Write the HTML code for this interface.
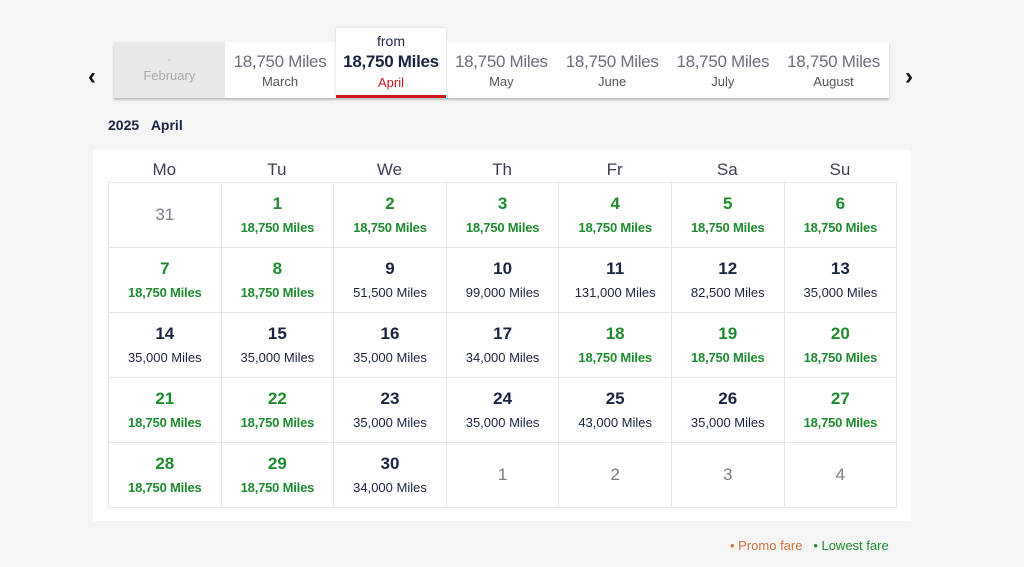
<!DOCTYPE html>
<html><head><meta charset="utf-8"><style>
body{margin:0;width:1024px;height:567px;background:#f5f5f5;font-family:"Liberation Sans",sans-serif;position:relative;overflow:hidden;color:#1b2340}
.arrow{position:absolute;top:63px;font-size:24px;font-weight:bold;color:#111}
.strip{position:absolute;left:114px;top:42px;width:775px;height:56px;background:#fff;box-shadow:0 2px 2px #bbb}
.tab{position:absolute;top:0;width:110.7px;height:56px;text-align:center}
.tab .m{font-size:17px;color:#6b6e7c;margin-top:10px;letter-spacing:-0.3px}
.tab .n{font-size:13px;color:#555;margin-top:2px}
.act{position:absolute;left:336px;top:28px;width:110px;height:70px;background:#fff;text-align:center;border-bottom:3px solid #c8191a;box-sizing:border-box;box-shadow:0 0 2px #ccc}
.panel{position:absolute;left:93px;top:150px;width:818px;height:371px;background:#fff}
table{position:absolute;left:15px;top:32px;border-collapse:collapse}
td{width:111.6px;height:64px;border:1px solid #e6e6e6;text-align:center;padding:0;vertical-align:middle}
.d{font-size:17px;font-weight:bold;line-height:20px}
.p{font-size:13px;line-height:16px;margin-top:6px}
.g{color:#1e8b30}
.p.g{font-weight:bold;letter-spacing:-0.2px}
.o{color:#7a7d88;font-weight:normal}
.hd{position:absolute;top:160px;width:112.6px;text-align:center;font-size:17px;color:#3a3f55}
</style></head><body>
<div class="arrow" style="left:88px">&#8249;</div>
<div class="arrow" style="left:905px">&#8250;</div>
<div class="strip">
<div class="tab" style="left:0;background:#e9e9ec"><div class="m" style="color:#bbb;font-size:12px">-</div><div class="n" style="color:#aaa">February</div></div>
<div class="tab" style="left:110.7px"><div class="m">18,750 Miles</div><div class="n">March</div></div>
<div class="tab" style="left:332px"><div class="m">18,750 Miles</div><div class="n">May</div></div>
<div class="tab" style="left:442.8px"><div class="m">18,750 Miles</div><div class="n">June</div></div>
<div class="tab" style="left:553.5px"><div class="m">18,750 Miles</div><div class="n">July</div></div>
<div class="tab" style="left:664.2px"><div class="m">18,750 Miles</div><div class="n">August</div></div>
</div>
<div class="act"><div style="font-size:14px;margin-top:5px">from</div><div style="font-size:17px;font-weight:bold;margin-top:3px;letter-spacing:-0.3px">18,750 Miles</div><div style="font-size:13px;color:#c8191a;margin-top:3px">April</div></div>
<div style="position:absolute;left:108px;top:117px;font-size:14px;font-weight:bold">2025&nbsp;&nbsp;&nbsp;April</div>
<div class="panel">
<table>
<tr><td><div class="d o">31</div></td><td><div class="d g">1</div><div class="p g">18,750 Miles</div></td><td><div class="d g">2</div><div class="p g">18,750 Miles</div></td><td><div class="d g">3</div><div class="p g">18,750 Miles</div></td><td><div class="d g">4</div><div class="p g">18,750 Miles</div></td><td><div class="d g">5</div><div class="p g">18,750 Miles</div></td><td><div class="d g">6</div><div class="p g">18,750 Miles</div></td></tr>
<tr><td><div class="d g">7</div><div class="p g">18,750 Miles</div></td><td><div class="d g">8</div><div class="p g">18,750 Miles</div></td><td><div class="d">9</div><div class="p">51,500 Miles</div></td><td><div class="d">10</div><div class="p">99,000 Miles</div></td><td><div class="d">11</div><div class="p">131,000 Miles</div></td><td><div class="d">12</div><div class="p">82,500 Miles</div></td><td><div class="d">13</div><div class="p">35,000 Miles</div></td></tr>
<tr><td><div class="d">14</div><div class="p">35,000 Miles</div></td><td><div class="d">15</div><div class="p">35,000 Miles</div></td><td><div class="d">16</div><div class="p">35,000 Miles</div></td><td><div class="d">17</div><div class="p">34,000 Miles</div></td><td><div class="d g">18</div><div class="p g">18,750 Miles</div></td><td><div class="d g">19</div><div class="p g">18,750 Miles</div></td><td><div class="d g">20</div><div class="p g">18,750 Miles</div></td></tr>
<tr><td><div class="d g">21</div><div class="p g">18,750 Miles</div></td><td><div class="d g">22</div><div class="p g">18,750 Miles</div></td><td><div class="d">23</div><div class="p">35,000 Miles</div></td><td><div class="d">24</div><div class="p">35,000 Miles</div></td><td><div class="d">25</div><div class="p">43,000 Miles</div></td><td><div class="d">26</div><div class="p">35,000 Miles</div></td><td><div class="d g">27</div><div class="p g">18,750 Miles</div></td></tr>
<tr><td><div class="d g">28</div><div class="p g">18,750 Miles</div></td><td><div class="d g">29</div><div class="p g">18,750 Miles</div></td><td><div class="d">30</div><div class="p">34,000 Miles</div></td><td><div class="d o">1</div></td><td><div class="d o">2</div></td><td><div class="d o">3</div></td><td><div class="d o">4</div></td></tr>
</table>
</div>
<div class="hd" style="left:108px">Mo</div><div class="hd" style="left:220.6px">Tu</div><div class="hd" style="left:333.2px">We</div><div class="hd" style="left:445.8px">Th</div><div class="hd" style="left:558.4px">Fr</div><div class="hd" style="left:671px">Sa</div><div class="hd" style="left:783.6px">Su</div>
<div style="position:absolute;left:730px;top:538px;font-size:13px"><span style="color:#d0703a">&#8226; Promo fare</span>&nbsp;&nbsp;&nbsp;<span style="color:#1e8b30">&#8226; Lowest fare</span></div>
</body></html>
